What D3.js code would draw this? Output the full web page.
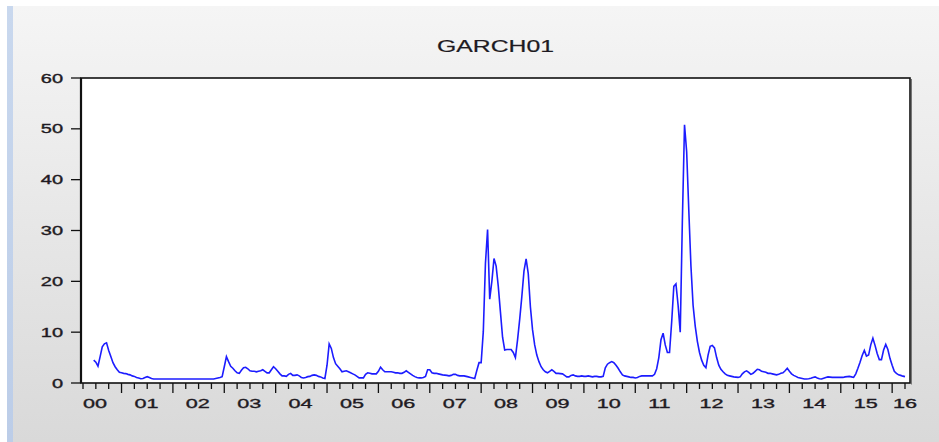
<!DOCTYPE html>
<html>
<head>
<meta charset="utf-8">
<script src="https://cdn.jsdelivr.net/npm/d3@7"></script>
<style>
  html, body { margin: 0; padding: 0; background: #fff; }
  svg { display: block; }
  text { font-family: "Liberation Sans", Arial, sans-serif; }
</style>
</head>
<body>
<svg id="chart" width="939" height="442"></svg>
<script>
const title = "GARCH01";
const startYear = 2000;
const periodsPerYear = 24;
const firstPeriod = 5;           // first observation's half-month index within 2000
const garch01 = [
  // 2000
  4.5, 4.1, 3.3, 5.2, 7.1, 7.7, 7.9, 6.4, 5.2, 4.0, 3.2, 2.6, 2.1, 2.0, 1.9, 1.85, 1.7, 1.6, 1.4,
  // 2001
  1.3, 1.1, 1.0, 0.85, 0.9, 1.1, 1.25, 1.1, 0.9, 0.8, 0.8, 0.8, 0.8, 0.8, 0.8, 0.8, 0.8, 0.8, 0.8, 0.8, 0.8, 0.8, 0.8, 0.8,
  // 2002
  0.8, 0.8, 0.8, 0.8, 0.8, 0.8, 0.8, 0.8, 0.8, 0.8, 0.8, 0.8, 0.8, 0.8, 0.9, 1.0, 1.1, 1.25, 3.2, 5.2, 4.2, 3.3, 2.9, 2.4,
  // 2003
  2.0, 1.9, 2.5, 3.0, 3.1, 2.8, 2.4, 2.3, 2.3, 2.2, 2.3, 2.4, 2.6, 2.3, 2.0, 2.0, 2.6, 3.2, 2.8, 2.3, 1.8, 1.4, 1.4, 1.3,
  // 2004
  1.7, 1.9, 1.5, 1.5, 1.6, 1.4, 1.1, 1.0, 1.1, 1.25, 1.3, 1.5, 1.6, 1.5, 1.3, 1.2, 1.0, 0.9, 3.5, 7.7, 6.8, 5.0, 3.8, 3.3,
  // 2005
  2.8, 2.2, 2.3, 2.4, 2.2, 2.0, 1.8, 1.6, 1.3, 1.0, 1.0, 1.0, 1.7, 2.0, 1.9, 1.8, 1.8, 1.8, 2.3, 3.1, 2.6, 2.2, 2.2, 2.2,
  // 2006
  2.2, 2.1, 2.0, 2.0, 1.9, 1.9, 2.1, 2.4, 2.1, 1.8, 1.5, 1.25, 1.1, 1.0, 1.0, 1.1, 1.3, 2.6, 2.6, 2.0, 1.9, 1.9, 1.8, 1.7,
  // 2007
  1.6, 1.55, 1.5, 1.4, 1.5, 1.7, 1.7, 1.5, 1.4, 1.4, 1.4, 1.3, 1.2, 1.1, 1.0, 0.9, 2.5, 4.0, 4.0, 10.1, 23.5, 30.2, 16.5, 20.0,
  // 2008
  24.5, 23.0, 19.0, 14.0, 9.0, 6.5, 6.6, 6.6, 6.6, 6.0, 5.0, 8.5, 12.5, 17.0, 22.0, 24.4, 21.5, 15.0, 10.5, 7.5, 5.5, 4.2, 3.2, 2.6,
  // 2009
  2.2, 2.0, 2.3, 2.6, 2.3, 1.9, 1.9, 1.85, 1.8, 1.5, 1.2, 1.2, 1.5, 1.6, 1.4, 1.3, 1.3, 1.4, 1.3, 1.3, 1.4, 1.3, 1.2, 1.3,
  // 2010
  1.3, 1.2, 1.2, 1.3, 3.0, 3.7, 4.0, 4.2, 4.0, 3.5, 2.9, 2.2, 1.6, 1.4, 1.3, 1.2, 1.1, 1.1, 1.0, 1.1, 1.3, 1.4, 1.4, 1.4,
  // 2011
  1.4, 1.4, 1.4, 1.7, 2.8, 5.0, 8.5, 9.8, 7.5, 6.0, 6.0, 12.0, 19.0, 19.5, 15.3, 10.0, 32.0, 50.8, 45.5, 34.0, 23.0, 15.3, 11.2, 8.2,
  // 2012
  6.0, 4.5, 3.5, 3.0, 5.5, 7.2, 7.4, 6.9, 5.0, 3.5, 2.7, 2.2, 1.8, 1.5, 1.4, 1.3, 1.2, 1.15, 1.1, 1.2, 1.8, 2.2, 2.4, 2.1,
  // 2013
  1.7, 1.9, 2.3, 2.7, 2.6, 2.3, 2.2, 2.1, 1.9, 1.9, 1.8, 1.7, 1.6, 1.7, 1.9, 2.0, 2.4, 2.9, 2.3, 1.8, 1.5, 1.3, 1.1, 1.0,
  // 2014
  0.9, 0.8, 0.8, 0.85, 0.95, 1.1, 1.2, 1.0, 0.85, 0.8, 0.95, 1.1, 1.2, 1.15, 1.1, 1.1, 1.1, 1.1, 1.1, 1.1, 1.2, 1.25, 1.3, 1.2,
  // 2015 (+ first obs of 2016)
  1.1, 1.8, 2.9, 4.1, 5.4, 6.4, 5.3, 5.5, 7.5, 8.8, 7.4, 5.8, 4.6, 4.6, 6.5, 7.6, 6.6, 4.8, 3.5, 2.3, 1.9, 1.6, 1.5, 1.35, 1.25
];
const yTicks = [0, 10, 20, 30, 40, 50, 60];
const yearLabels = ["00","01","02","03","04","05","06","07","08","09","10","11","12","13","14","15","16"];

// ---- layout ----
const W = 939, H = 442;
const plot = { left: 81, right: 910, top: 78, bottom: 383 };
const svg = d3.select("#chart");

// background
const defs = svg.append("defs");
const grad = defs.append("linearGradient").attr("id", "bg").attr("x1", 0).attr("y1", 0).attr("x2", 0).attr("y2", 1);
grad.append("stop").attr("offset", "0%").attr("stop-color", "#f5f5f5");
grad.append("stop").attr("offset", "100%").attr("stop-color", "#d9d9d9");
svg.append("rect").attr("width", W).attr("height", H).attr("fill", "#ffffff");
svg.append("rect").attr("x", 13).attr("y", 6).attr("width", W - 13).attr("height", H - 6).attr("fill", "url(#bg)");
const grad2 = defs.append("linearGradient").attr("id", "strip").attr("x1", 0).attr("y1", 0).attr("x2", 0).attr("y2", 1);
grad2.append("stop").attr("offset", "0%").attr("stop-color", "#c9d8ee");
grad2.append("stop").attr("offset", "100%").attr("stop-color", "#bccde8");
svg.append("rect").attr("x", 7).attr("y", 6).attr("width", 6).attr("height", H - 6).attr("fill", "url(#strip)");

// plot area
svg.append("rect").attr("x", plot.left).attr("y", plot.top)
  .attr("width", plot.right - plot.left).attr("height", plot.bottom - plot.top)
  .attr("fill", "#ffffff");

const x = d3.scaleLinear().domain([startYear, startYear + 16]).range([83, 905]);
const y = d3.scaleLinear().domain([0, 60]).range([plot.bottom, plot.top]);

const data = garch01.map((v, i) => ({ t: startYear + (firstPeriod + i) / periodsPerYear, v }));

// line
const line = d3.line().x(d => x(d.t)).y(d => y(d.v));
svg.append("path").datum(data).attr("d", line)
  .attr("fill", "none").attr("stroke", "#1c1cff").attr("stroke-width", 1.6)
  .attr("stroke-linejoin", "miter");

// frame
svg.append("rect").attr("x", plot.left).attr("y", plot.top)
  .attr("width", plot.right - plot.left).attr("height", plot.bottom - plot.top)
  .attr("fill", "none").attr("stroke", "#111").attr("stroke-width", 1.6);
svg.append("line").attr("x1", plot.left).attr("x2", plot.left)
  .attr("y1", plot.top).attr("y2", plot.bottom)
  .attr("stroke", "#111").attr("stroke-width", 2.2);
svg.append("line").attr("x1", plot.right + 1.5).attr("x2", plot.right + 1.5)
  .attr("y1", plot.top + 1).attr("y2", plot.bottom + 1.5)
  .attr("stroke", "#777").attr("stroke-width", 1);

// y axis ticks + labels
const textColor = "#1e1a22";
const sx = 1.6;
yTicks.forEach(t => {
  svg.append("line").attr("x1", 71).attr("x2", plot.left).attr("y1", y(t)).attr("y2", y(t))
    .attr("stroke", "#111").attr("stroke-width", 1.3);
  svg.append("text")
    .attr("transform", `translate(63,${y(t) + 4.5}) scale(${sx},1)`)
    .attr("text-anchor", "end").attr("font-size", 12.5).attr("fill", textColor)
    .attr("stroke", textColor).attr("stroke-width", 0.35)
    .text(t);
});

// x axis quarterly ticks
const quarters = d3.range(0, 16 * 4 + 1).map(q => startYear + q / 4);
quarters.forEach((q, i) => {
  const major = i % 4 === 3;
  svg.append("line").attr("x1", x(q)).attr("x2", x(q))
    .attr("y1", plot.bottom).attr("y2", plot.bottom + (major ? 10 : 6))
    .attr("stroke", "#111").attr("stroke-width", 1.3);
});

// x labels
yearLabels.forEach((lab, i) => {
  const px = Math.min(x(startYear + i), 893);
  svg.append("text")
    .attr("transform", `translate(${px},408) scale(${sx},1)`)
    .attr("text-anchor", "start").attr("font-size", 13.5).attr("fill", textColor)
    .attr("stroke", textColor).attr("stroke-width", 0.35)
    .text(lab);
});

// title
svg.append("text")
  .attr("transform", `translate(${(plot.left + plot.right) / 2},52) scale(1.55,1)`)
  .attr("text-anchor", "middle").attr("font-size", 16).attr("fill", textColor)
  .attr("stroke", textColor).attr("stroke-width", 0.2)
  .text(title);
</script>
</body>
</html>
